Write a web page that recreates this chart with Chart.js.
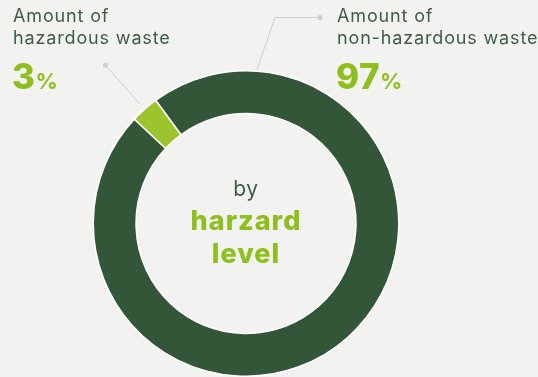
<!DOCTYPE html>
<html>
<head>
<meta charset="utf-8">
<script src="https://cdn.jsdelivr.net/npm/chart.js@4.4.1/dist/chart.umd.min.js"></script>
<style>
  html, body { margin: 0; padding: 0; }
  body {
    width: 538px; height: 377px; overflow: hidden; position: relative;
    background: #f2f2f0;
    font-family: Inter, 'Open Sans', sans-serif;
  }
  #chart { position: absolute; left: 0; top: 0; }
  .lbl { position: absolute; color: #3f5e45; font-size: 18px; line-height: 22px; letter-spacing: 0.85px; white-space: nowrap; }
  .pct { position: absolute; color: #8fbf1f; font-weight: 800; font-size: 35px; line-height: 33px; letter-spacing: 0.5px; white-space: nowrap; }
  .pct small { font-size: 22px; font-weight: 700; letter-spacing: 0; }
  #center { position: absolute; left: 146px; width: 200px; text-align: center; top: 174px; }
  #center .by { color: #3f5e45; font-size: 21px; line-height: 30px; letter-spacing: 0.5px; }
  #center .big { color: #8fbf1f; font-size: 27px; font-weight: 800; line-height: 33px; letter-spacing: 1px; }
</style>
</head>
<body>
<canvas id="chart" width="538" height="377"></canvas>

<div class="lbl" id="lbl0" style="left:13px; top:5px;"></div>
<div class="pct" id="pct0" style="left:12px; top:60px;"></div>
<div class="lbl" id="lbl1" style="left:337px; top:5px;"></div>
<div class="pct" id="pct1" style="left:336px; top:60px;"></div>

<div id="center">
  <div class="by">by</div>
  <div class="big">harzard<br>level</div>
</div>

<script>
// data ---------------------------------------------------------------
const categories = ['Amount of hazardous waste', 'Amount of non-hazardous waste']
const labelLines = [['Amount of', 'hazardous waste'], ['Amount of', 'non-hazardous waste']]
const shares = [3, 97]
const colors = ['#9dc42c', '#345638']

// text labels
labelLines.forEach((lines, i) => {
  document.querySelector('#lbl' + i).innerHTML = lines.join('<br>')
  document.querySelector('#pct' + i).innerHTML = shares[i] + '<small>%</small>'
})

// leader lines from the ring to the labels
const calloutPlugin = {
  id: 'callouts',
  afterDatasetsDraw(chart) {
    const ctx = chart.ctx
    const arcs = chart.getDatasetMeta(0).data
    const a0 = arcs[0]
    const cx = a0.x, cy = a0.y, r = a0.outerRadius

    ctx.save()
    ctx.strokeStyle = '#cdcdcb'
    ctx.fillStyle = '#cdcdcb'
    ctx.lineWidth = 1

    // hazardous: radial line out of the middle of the small slice
    const mid = (a0.startAngle + a0.endAngle) / 2
    const p1 = [cx + Math.cos(mid) * (r + 7), cy + Math.sin(mid) * (r + 7)]
    const p2 = [cx + Math.cos(mid) * (r + 59), cy + Math.sin(mid) * (r + 59)]
    ctx.beginPath()
    ctx.moveTo(p1[0], p1[1])
    ctx.lineTo(p2[0], p2[1])
    ctx.stroke()
    ctx.beginPath()
    ctx.arc(p2[0], p2[1], 2.5, 0, Math.PI * 2)
    ctx.fill()

    // non-hazardous: from top of ring, up and across to the label
    const ang = -Math.PI / 2 + 0.07
    const q1 = [cx + Math.cos(ang) * (r + 1), cy + Math.sin(ang) * (r + 1)]
    const q2 = [cx + 29, cy - 206]
    const q3 = [cx + 74, cy - 206]
    ctx.beginPath()
    ctx.moveTo(q1[0], q1[1])
    ctx.lineTo(q2[0], q2[1])
    ctx.lineTo(q3[0], q3[1])
    ctx.stroke()
    ctx.beginPath()
    ctx.arc(q3[0], q3[1], 2.5, 0, Math.PI * 2)
    ctx.fill()
    ctx.restore()
  }
}

new Chart(document.querySelector('#chart'), {
  type: 'doughnut',
  data: {
    labels: categories,
    datasets: [{
      data: shares,
      backgroundColor: colors,
      borderColor: '#ffffff',
      borderWidth: 1.5,
      hoverOffset: 0
    }]
  },
  options: {
    responsive: false,
    animation: false,
    cutout: '72%',
    rotation: -47,
    layout: { padding: { left: 92, right: 138, top: 70, bottom: 0 } },
    plugins: {
      legend: { display: false },
      tooltip: { enabled: false }
    }
  },
  plugins: [calloutPlugin]
})
</script>
</body>
</html>
